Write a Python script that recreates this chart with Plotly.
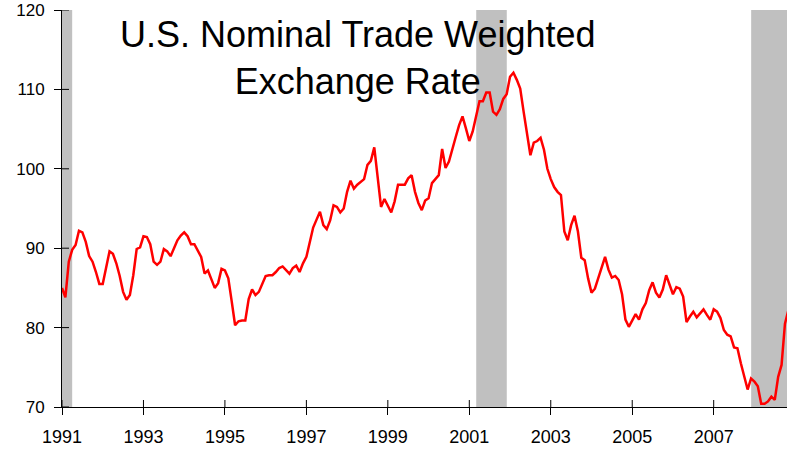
import plotly.graph_objects as go

# Monthly U.S. nominal trade weighted exchange rate index, Jan 1991 onward
years = list(range(1991, 2009))
values_by_year = {
    1991: [85.0, 83.8, 88.3, 89.8, 90.4, 92.2, 92.0, 90.8, 89.0, 88.3, 87.0, 85.5],
    1992: [85.5, 87.5, 89.6, 89.3, 88.1, 86.5, 84.5, 83.5, 84.1, 86.6, 89.9, 90.1],
    1993: [91.5, 91.4, 90.5, 88.3, 87.9, 88.3, 89.9, 89.6, 89.0, 90.0, 91.0, 91.6],
    1994: [92.0, 91.5, 90.5, 90.5, 89.6, 88.9, 86.8, 87.2, 86.1, 85.0, 85.6, 87.4],
    1995: [87.2, 86.2, 83.3, 80.3, 80.8, 80.9, 80.9, 83.6, 84.8, 84.1, 84.5, 85.4],
    1996: [86.5, 86.6, 86.6, 87.0, 87.5, 87.7, 87.3, 86.8, 87.5, 87.8, 87.0, 88.1],
    1997: [88.9, 90.6, 92.6, 93.6, 94.6, 92.9, 92.4, 93.5, 95.4, 95.2, 94.5, 95.0],
    1998: [97.1, 98.5, 97.5, 98.0, 98.4, 98.7, 100.5, 101.0, 102.7, 99.0, 95.2, 96.2],
    1999: [95.4, 94.5, 95.9, 98.0, 98.0, 98.0, 98.8, 99.2, 97.1, 95.7, 94.8, 96.0],
    2000: [96.3, 98.2, 98.7, 99.2, 102.5, 100.1, 100.9, 102.6, 104.0, 105.5, 106.6, 105.1],
    2001: [103.5, 104.7, 106.8, 108.5, 108.5, 109.6, 109.6, 107.2, 106.8, 107.5, 108.8, 109.4],
    2002: [111.6, 112.1, 111.2, 110.1, 107.2, 104.3, 101.7, 103.3, 103.5, 103.9, 102.4, 100.0],
    2003: [98.7, 97.7, 97.1, 96.7, 92.1, 91.0, 92.9, 94.1, 92.1, 88.8, 88.5, 86.2],
    2004: [84.4, 84.9, 86.2, 87.3, 88.9, 87.3, 86.3, 86.5, 86.0, 84.2, 81.0, 80.1],
    2005: [80.9, 81.7, 81.0, 82.3, 83.1, 84.7, 85.7, 84.4, 83.8, 84.8, 86.6, 85.5],
    2006: [84.2, 85.1, 84.9, 83.9, 80.7, 81.4, 82.0, 81.3, 81.8, 82.3, 81.6, 81.0],
    2007: [82.3, 82.0, 81.2, 79.7, 79.1, 78.9, 77.5, 77.4, 75.5, 73.7, 72.2, 73.6],
    2008: [73.2, 72.6, 70.4, 70.4, 70.7, 71.3, 70.9, 73.8, 75.3, 80.5, 82.2],
}

dates = []
values = []
for y in years:
    for m, v in enumerate(values_by_year[y]):
        dates.append(y + m / 12.0)
        values.append(v)

# Recessions (fractional years)
recession_starts = [1990.5, 2001.17, 2007.92]
recession_ends = [1991.25, 2001.92, 2009.5]

x_tickvals = [1991, 1993, 1995, 1997, 1999, 2001, 2003, 2005, 2007]
x_ticktext = [str(v) for v in x_tickvals]
y_tickvals = [70, 80, 90, 100, 110, 120]

title_text = "U.S. Nominal Trade Weighted<br>Exchange Rate"

x_range = [1991.0, 2008.8]
y_range = [70, 120]

fig = go.Figure()
fig.add_trace(go.Scatter(
    x=dates, y=values, mode="lines",
    line=dict(color="#FF0000", width=2.5),
    showlegend=False, hoverinfo="skip",
))

for x0, x1 in zip(recession_starts, recession_ends):
    fig.add_shape(type="rect", xref="x", yref="y", x0=x0, x1=x1,
                  y0=y_range[0], y1=y_range[1],
                  fillcolor="#C0C0C0", line=dict(width=0), layer="below")

# inner halves of the tick marks (ticks cross the axis lines in the reference)
TICK_IN = 7
for tv in x_tickvals:
    fig.add_shape(type="line", xref="x", x0=tv, x1=tv,
                  yref="paper", ysizemode="pixel", yanchor=0, y0=0, y1=TICK_IN,
                  line=dict(color="black", width=1), layer="above")
for tv in y_tickvals:
    fig.add_shape(type="line", yref="y", y0=tv, y1=tv,
                  xref="paper", xsizemode="pixel", xanchor=0, x0=0, x1=TICK_IN,
                  line=dict(color="black", width=1), layer="above")

font_family = "Liberation Sans, Arial, sans-serif"

fig.update_layout(
    width=787, height=450,
    margin=dict(l=62, r=0, t=10, b=43),
    paper_bgcolor="white", plot_bgcolor="white",
    font=dict(family=font_family, color="black"),
    xaxis=dict(
        range=x_range, tickvals=x_tickvals, ticktext=x_ticktext,
        showgrid=False, zeroline=False, showline=True, linecolor="black", linewidth=1,
        ticks="outside", ticklen=7, tickcolor="black", tickwidth=1,
        tickfont=dict(size=18), ticklabelstandoff=6, automargin=False,
    ),
    yaxis=dict(
        range=y_range, tickvals=y_tickvals,
        showgrid=False, zeroline=False, showline=True, linecolor="black", linewidth=1,
        ticks="outside", ticklen=7, tickcolor="black", tickwidth=1,
        tickfont=dict(size=17), ticklabelstandoff=6, automargin=False,
    ),
    annotations=[dict(
        text=title_text, xref="paper", yref="paper", x=0.408, y=1.0,
        xanchor="center", yanchor="top", yshift=-2, showarrow=False,
        font=dict(size=36, family=font_family, color="black"),
    )],
)

fig.write_html(
    "out.html",
    config={"displayModeBar": False},
    post_script="document.body.style.margin='0';document.body.style.overflow='hidden';",
)
